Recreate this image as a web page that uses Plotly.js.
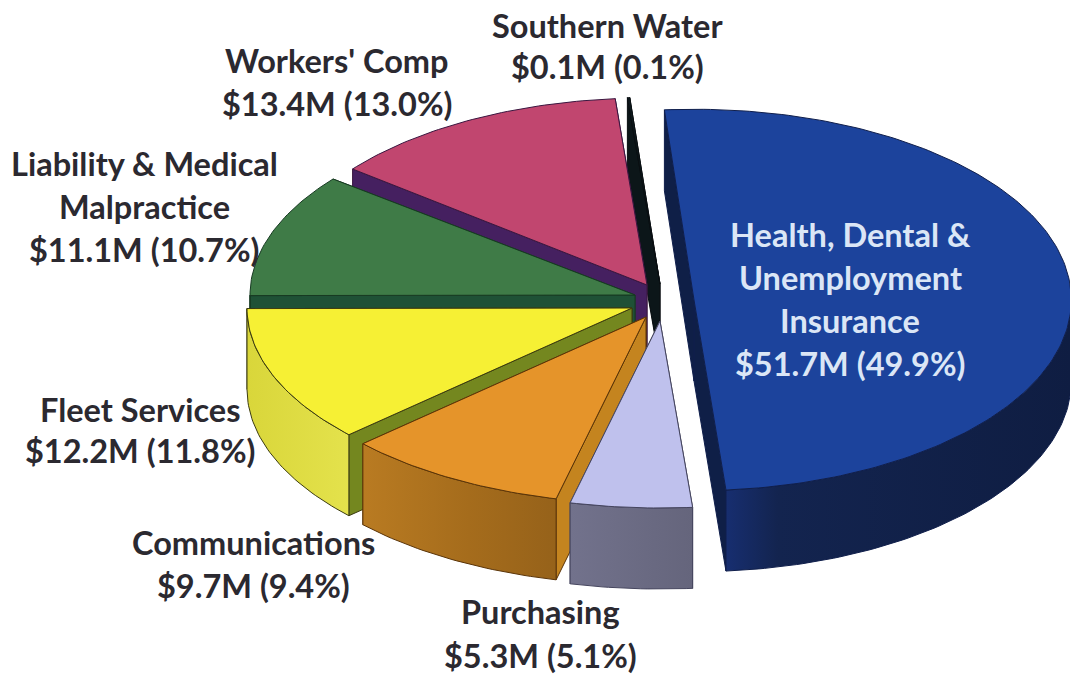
<!DOCTYPE html>
<html>
<head>
<meta charset="utf-8">
<script src="https://cdn.plot.ly/plotly-3.0.1.min.js"></script>
<style>html,body{margin:0;padding:0;background:#fff}</style>
</head>
<body>
<div id="chart" style="width:1070px;height:674px"></div>
<script>
// ---- chart data ----
const categories = ["Health, Dental & Unemployment Insurance","Purchasing","Communications","Fleet Services","Liability & Medical Malpractice","Workers' Comp","Southern Water"];
const amounts = [51.7, 5.3, 9.7, 12.2, 11.1, 13.4, 0.1];
const percents = [49.9, 5.1, 9.4, 11.8, 10.7, 13.0, 0.1];

// ---- label layout ----
const labelLines = [
  ["Health, Dental &","Unemployment","Insurance"],["Purchasing"],["Communications"],["Fleet Services"],
  ["Liability & Medical","Malpractice"],["Workers' Comp"],["Southern Water"]
];
const labelX = [850, 540, 253, 140, 144, 337, 607];
const labelY = [234, 611, 542, 409, 163, 60, 25];
const labelGap = [43, 44, 43, 41, 43, 43, 41];
const labelColor = ["#dbe6f6","#2b2930","#2b2930","#2b2930","#2b2930","#2b2930","#2b2930"];

// ---- exploded pie look ----
const centerX = [694, 660, 646, 632, 635, 647, 660];
const centerY = [300, 321, 317, 308, 295, 285, 284];
const scaleX = [0.98, 1, 1, 1, 1, 0.975, 1];
const scaleY = [1.02, 1, 1, 1, 1, 1, 1];
const topColor = ["#1c439c","#bfc1ed","#e5942a","#f6f034","#3f7b47","#c1466f","#0e1a1e"];
const outerStops = [
  [[0,"#172e70"],[0.15,"#13244f"],[1,"#0f1d42"]],
  [[0,"#72728c"],[1,"#65657c"]],
  [[0,"#b97b22"],[0.55,"#a56c1c"],[1,"#96621a"]],
  [[0,"#d9d63a"],[1,"#e4e24c"]],
  [[0,"#2f6239"],[1,"#2f6239"]],
  [[0,"#8a3050"],[1,"#8a3050"]],
  [[0,"#0e1a1e"],[1,"#0e1a1e"]]
];
const cutColor = ["#0f1f47","#5a5a72","#c4841f","#74871f","#1f5136","#452060","#0c1619"];
const edgeColor = ["#101f4c","#45455e","#5a3408","#3b3b10","#173a22","#3a1740","#0a0f12"];
const startAngle = -4.5, radiusX = 385, radiusY = 187, depth = 81;

const drawOrder = [6, 5, 4, 3, 2, 1, 0];
const rad = d => d * Math.PI / 180;

function rim(i, t) {
  return [centerX[i] + radiusX * scaleX[i] * Math.sin(rad(t)),
          centerY[i] - radiusY * scaleY[i] * Math.cos(rad(t))];
}
function arc(i, a, b) {
  const out = [];
  const n = Math.max(2, Math.ceil(Math.abs(b - a)));
  for (let k = 0; k <= n; k++) out.push(rim(i, a + (b - a) * k / n));
  return out;
}
function poly(name, pts, fill, line, extra) {
  return Object.assign({
    type: "scatter", mode: "lines", name, hoverinfo: "skip", showlegend: false,
    x: pts.map(p => p[0]).concat(pts[0][0]), y: pts.map(p => p[1]).concat(pts[0][1]),
    fill: "toself", fillcolor: fill, line: { color: line, width: 1 }
  }, extra || {});
}

// cumulative angle limits from the percentages
const limits = [];
let acc = startAngle;
percents.forEach(p => { limits.push([acc, acc + p * 3.6]); acc += p * 3.6; });

const traces = [];
drawOrder.forEach(i => {
  const [a, b] = limits[i];
  const name = categories[i];
  const apex = [centerX[i], centerY[i]];
  const down = p => [p[0], p[1] + depth];
  [b, a].forEach(t => {
    const r = rim(i, t);
    traces.push(poly(name + " cut", [apex, r, down(r), down(apex)], cutColor[i], edgeColor[i]));
  });
  const lo = Math.max(a, 90), hi = Math.min(b, 270);
  if (hi > lo) {
    const top = arc(i, lo, hi);
    const bottom = top.map(down).reverse();
    traces.push(poly(name + " side", top.concat(bottom), outerStops[i][0][1], edgeColor[i], {
      fillgradient: { type: "horizontal", colorscale: i === 0 ? outerStops[i] : outerStops[i] }
    }));
  }
  traces.push(poly(name, [apex].concat(arc(i, a, b)), topColor[i], edgeColor[i]));
});

// labels
const annotations = [];
categories.forEach((c, i) => {
  const lines = labelLines[i].concat(`$${amounts[i].toFixed(1)}M (${percents[i].toFixed(1)}%)`);
  lines.forEach((text, k) => annotations.push({
    x: labelX[i], y: labelY[i] + k * labelGap[i], xref: "x", yref: "y",
    text: text.replace(/&/g, "&amp;"), showarrow: false, xanchor: "center", yanchor: "middle",
    font: { family: "Lato, 'Open Sans', sans-serif", size: 32.5, weight: 700, color: labelColor[i] }
  }));
});

const layout = {
  width: 1070, height: 674, margin: { l: 0, r: 0, t: 0, b: 0 },
  paper_bgcolor: "#ffffff", plot_bgcolor: "#ffffff", showlegend: false,
  xaxis: { range: [0, 1070], visible: false, fixedrange: true },
  yaxis: { range: [674, 0], visible: false, fixedrange: true },
  annotations
};
Plotly.newPlot("chart", traces, layout, { displayModeBar: false, staticPlot: true });
</script>
</body>
</html>
